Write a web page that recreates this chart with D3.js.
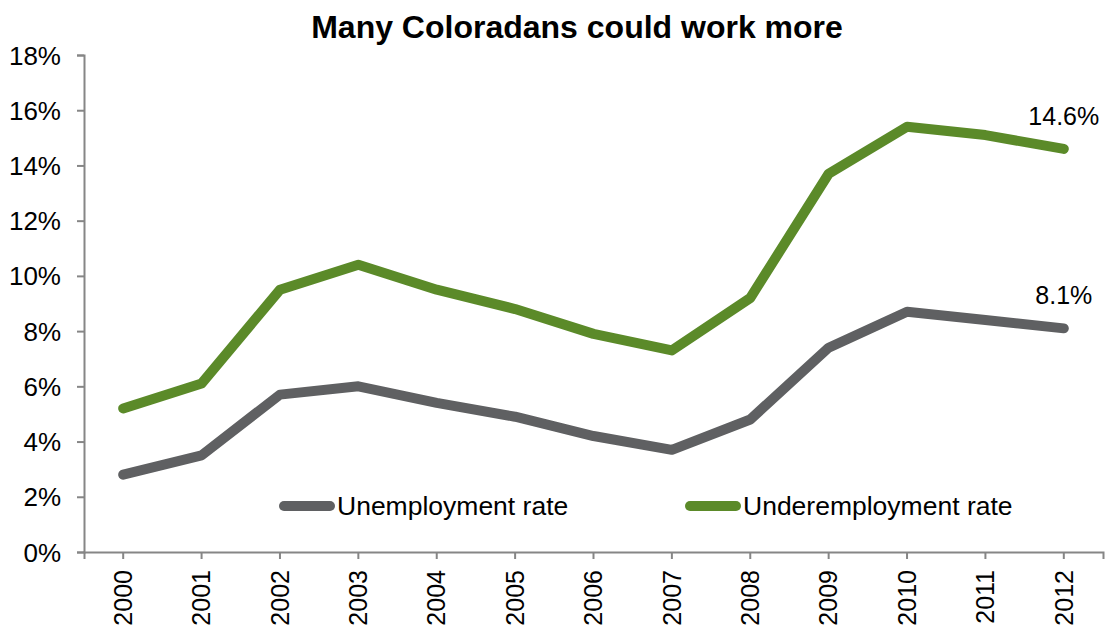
<!DOCTYPE html>
<html>
<head>
<meta charset="utf-8">
<script src="https://cdn.jsdelivr.net/npm/d3@7"></script>
<style>
  html, body { margin: 0; padding: 0; background: #fff; }
  svg text { font-family: "Liberation Sans", Arial, sans-serif; fill: #000; }
</style>
</head>
<body>
<svg id="chart" width="1109" height="629"></svg>
<script>
// Colorado labor market, 2000-2012 (percent)
const years = ["2000","2001","2002","2003","2004","2005","2006","2007","2008","2009","2010","2011","2012"];
const unemployment = [2.8, 3.5, 5.7, 6.0, 5.4, 4.9, 4.2, 3.7, 4.8, 7.4, 8.7, 8.4, 8.1];
const underemployment = [5.2, 6.1, 9.5, 10.4, 9.5, 8.8, 7.9, 7.3, 9.2, 13.7, 15.4, 15.1, 14.6];
const yTicks = [0, 2, 4, 6, 8, 10, 12, 14, 16, 18];
const seriesNames = ["Unemployment rate", "Underemployment rate"];
const seriesColors = ["#5f6062", "#5b8a29"];

const svg = d3.select("#chart");
const margin = { left: 84, right: 6, top: 55, bottom: 77 };
const W = 1109, H = 629;

const x = d3.scaleBand().domain(years).range([margin.left, W - margin.right]);
const y = d3.scaleLinear().domain([0, 18]).range([H - margin.bottom, margin.top]);

// Title
svg.append("text")
  .attr("x", 577).attr("y", 38)
  .attr("text-anchor", "middle")
  .style("font-weight", "bold").style("font-size", "32px")
  .text("Many Coloradans could work more");

// Y axis
const yAxis = svg.append("g")
  .attr("transform", `translate(${margin.left},0)`)
  .call(d3.axisLeft(y).tickValues(yTicks).tickFormat(d => d + "%").tickSizeOuter(0).tickSize(7).tickPadding(16));
yAxis.selectAll("text").style("font-size", "26px").attr("dy", "0.35em");

// X axis
const xAxis = svg.append("g")
  .attr("transform", `translate(0,${y(0)})`)
  .call(d3.axisBottom(x).tickSizeOuter(0).tickSize(7));
xAxis.selectAll("text")
  .style("font-size", "25px")
  .attr("transform", "rotate(-90)")
  .attr("text-anchor", "end")
  .attr("x", -18).attr("y", 0).attr("dy", "0.35em");

svg.selectAll(".domain, .tick line").attr("stroke", "#868686").attr("stroke-width", 2);

// Lines
const line = d3.line()
  .x((d, i) => x(years[i]) + x.bandwidth() / 2)
  .y(d => y(d));

[unemployment, underemployment].forEach((vals, k) => {
  svg.append("path")
    .datum(vals)
    .attr("fill", "none")
    .attr("stroke", seriesColors[k])
    .attr("stroke-width", 10)
    .attr("stroke-linecap", "round")
    .attr("stroke-linejoin", "round")
    .attr("d", line);
});

// End-point value labels
const last = years.length - 1;
[underemployment, unemployment].forEach(vals => {
  svg.append("text")
    .attr("x", x(years[last]) + x.bandwidth() / 2)
    .attr("y", y(vals[last]) - 24)
    .attr("text-anchor", "middle")
    .style("font-size", "25px")
    .text(vals[last].toFixed(1) + "%");
});

// Legend
const legendX = [280, 686];
seriesNames.forEach((name, k) => {
  const g = svg.append("g").attr("transform", `translate(${legendX[k]},${506})`);
  g.append("line")
    .attr("x1", 4).attr("x2", 50).attr("y1", 0).attr("y2", 0)
    .attr("stroke", seriesColors[k]).attr("stroke-width", 10).attr("stroke-linecap", "round");
  g.append("text")
    .attr("x", 57).attr("y", 0).attr("dy", "0.35em")
    .style("font-size", "26.5px")
    .text(name);
});
</script>
</body>
</html>
